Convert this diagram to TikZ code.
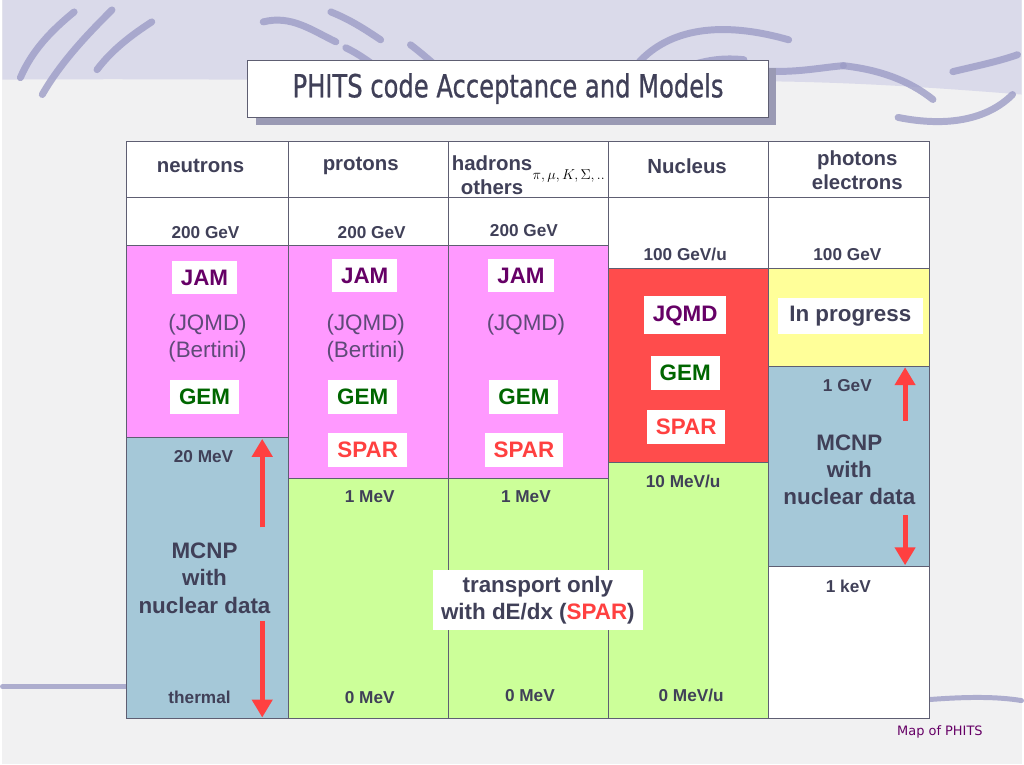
\documentclass[tikz,border=0pt]{standalone}
\usepackage{fontspec}
\setmainfont{Liberation Sans}
\newfontfamily\titlefont[FakeStretch=0.76,FakeBold=0.7]{DejaVu Sans}
\newfontfamily\notefont{DejaVu Sans}
\usetikzlibrary{arrows.meta,positioning,shadows}
\definecolor{txt}{HTML}{404058}
\definecolor{grid}{HTML}{5E5E72}
\definecolor{jamc}{HTML}{660066}
\definecolor{oldc}{HTML}{5E4A78}
\definecolor{gemc}{HTML}{006600}
\definecolor{sparc}{HTML}{FF4040}
\definecolor{magc}{HTML}{FF99FF}
\definecolor{bluec}{HTML}{A5C8D8}
\definecolor{greenc}{HTML}{CCFF99}
\definecolor{redc}{HTML}{FF4C4C}
\definecolor{yellowc}{HTML}{FFFF99}
\definecolor{bandc}{HTML}{DADAEA}
\definecolor{swirlc}{HTML}{9C9CC6}
\definecolor{paperc}{HTML}{F1F1F2}
\definecolor{shadowc}{HTML}{9A9AB4}

\begin{document}
\begin{tikzpicture}[x=1pt,y=-1pt,
  cell/.style={draw=grid,line width=0.9pt},
  head/.style={font=\fontsize{20.5}{24}\selectfont\bfseries,text=txt,align=center},
  energy/.style={font=\fontsize{17.3}{20}\selectfont\bfseries,text=txt},
  model/.style={fill=white,font=\fontsize{22.5}{26}\selectfont\bfseries,inner xsep=9pt,inner ysep=9pt},
  older/.style={font=\fontsize{22.5}{27}\selectfont,text=oldc,align=center},
  data/.style={font=\fontsize{22.5}{27.5}\selectfont\bfseries,text=txt,align=center},
  swirl/.style={draw=swirlc,line cap=round,line width=7pt,opacity=.8},
  updown/.style={-{Triangle[width=20pt,length=18pt]},line width=5pt,draw=sparc}]

  % background
  \fill[paperc] (0,0) rectangle (1024,768);
  \fill[bandc] (0,0) -- (1024,0) -- (1024,95) .. controls (900,85) and (800,80) .. (700,82)
    .. controls (500,85) and (300,78) .. (0,80) -- cycle;
  \path[swirl] (18,78) .. controls (30,50) and (50,30) .. (72,12);
  \path[swirl] (40,95) .. controls (60,60) and (90,30) .. (110,10);
  \path[swirl] (95,70) .. controls (110,50) and (130,35) .. (150,22);
  \path[swirl] (262,22) .. controls (290,15) and (310,30) .. (335,42);
  \path[swirl] (345,48) .. controls (370,60) and (390,80) .. (410,95);
  \path[swirl] (410,45) .. controls (430,60) and (450,80) .. (470,95);
  \path[swirl] (330,12) .. controls (350,20) and (365,30) .. (380,40);
  \path[swirl] (640,62) .. controls (670,30) and (720,20) .. (790,40);
  \path[swirl] (690,66) .. controls (710,60) and (725,58) .. (745,60);
  \path[swirl] (752,70) .. controls (790,75) and (820,68) .. (845,66);
  \path[swirl] (845,66) .. controls (880,70) and (910,80) .. (935,100);
  \path[swirl] (900,118) .. controls (950,128) and (990,120) .. (1015,95);
  \path[swirl] (955,72) .. controls (980,66) and (1000,62) .. (1020,55);
  \path[swirl,line width=5pt] (0,690) -- (125,690);
  \path[swirl,line width=5pt] (931,703) .. controls (970,700) and (1000,700) .. (1024,704);

  % title
  \node[draw=grid,fill=white,line width=0.8pt,minimum width=523pt,minimum height=57pt,
    drop shadow={shadow xshift=8pt,shadow yshift=-8pt,fill=shadowc,opacity=1},
    font=\titlefont\fontsize{32}{36}\selectfont,text=txt] (title) at (508,89)
    {PHITS code Acceptance and Models};

  % table cells
  \draw[cell,fill=white] (125,142) rectangle (931,722);
  \draw[cell] (125,198) -- (931,198);
  \draw[cell,fill=magc] (125,247) rectangle (287,440);
  \draw[cell,fill=bluec] (125,440) rectangle (287,722);
  \draw[cell,fill=magc] (287,247) rectangle (448,481);
  \draw[cell,fill=greenc] (287,481) rectangle (448,722);
  \draw[cell,fill=magc] (448,247) rectangle (609,481);
  \draw[cell,fill=greenc] (448,481) rectangle (609,722);
  \draw[cell,fill=redc] (609,270) rectangle (770,465);
  \draw[cell,fill=greenc] (609,465) rectangle (770,722);
  \draw[cell,fill=yellowc] (770,270) rectangle (931,368);
  \draw[cell,fill=bluec] (770,368) rectangle (931,569);
  \foreach \x in {287,448,609,770}
    \draw[cell] (\x,142) -- (\x,722);

  % header row
  \node[head] (neut) at (199,167) {neutrons};
  \node[head] (prot) at (360,167) {protons};
  \node[head] (hadr) at (492,176) {hadrons\\others};
  \node[font=\fontsize{15.5}{18}\selectfont] (part) at (569,177) {$\pi, \mu, K, \Sigma,..$};
  \node[head] (nucl) at (688,167) {Nucleus};
  \node[head] (phot) at (859,171) {photons\\electrons};

  % upper limits
  \node[energy] (nmax) at (204,234) {200 GeV};
  \node[energy] (pmax) at (371,234) {200 GeV};
  \node[energy] (hmax) at (524,232) {200 GeV};
  \node[energy] (amax) at (686,256) {100 GeV/u};
  \node[energy] (gmax) at (849,256) {100 GeV};

  % neutrons
  \node[model,text=jamc] (njam) at (203,279) {JAM};
  \node[older] (nold) at (206,340) {(JQMD)\\(Bertini)};
  \node[model,text=gemc] (ngem) at (203,399) {GEM};
  \node[energy] (nmid) at (202,459) {20 MeV};
  \node[data] (nmcnp) at (203,581) {MCNP\\with\\nuclear data};
  \node[energy] (nmin) at (198,701) {thermal};
  \coordinate (nup0) at (261,530);
  \coordinate (nup1) at (261,441);
  \coordinate (ndn0) at (261,624);
  \coordinate (ndn1) at (261,721);
  \draw[updown] (nup0) -- (nup1);
  \draw[updown] (ndn0) -- (ndn1);

  % protons
  \node[model,text=jamc] (pjam) at (364,277) {JAM};
  \node[older] (pold) at (365,340) {(JQMD)\\(Bertini)};
  \node[model,text=gemc] (pgem) at (362,399) {GEM};
  \node[model,text=sparc] (pspar) at (367,452) {SPAR};
  \node[energy] (pmid) at (369,499) {1 MeV};
  \node[energy] (pmin) at (369,701) {0 MeV};

  % hadrons
  \node[model,text=jamc] (hjam) at (521,277) {JAM};
  \node[older] (hold) at (526,326) {(JQMD)};
  \node[model,text=gemc] (hgem) at (524,399) {GEM};
  \node[model,text=sparc] (hspar) at (524,452) {SPAR};
  \node[energy] (hmid) at (526,499) {1 MeV};
  \node[energy] (hmin) at (530,699) {0 MeV};

  % nucleus
  \node[model,text=jamc] (ajqmd) at (686,317) {JQMD};
  \node[model,text=gemc] (agem) at (686,375) {GEM};
  \node[model,text=sparc] (aspar) at (687,429) {SPAR};
  \node[energy] (amid) at (684,484) {10 MeV/u};
  \node[energy] (amin) at (692,699) {0 MeV/u};

  % photons
  \node[model,text=txt,minimum width=145pt,inner ysep=8pt] (gprog) at (852,318) {In progress};
  \node[energy] (gmid) at (849,387) {1 GeV};
  \node[data] (gmcnp) at (851,472) {MCNP\\with\\nuclear data};
  \node[energy] (gmin) at (850,589) {1 keV};
  \coordinate (gup0) at (907,423);
  \coordinate (gup1) at (907,369);
  \coordinate (gdn0) at (907,518);
  \coordinate (gdn1) at (907,568);
  \draw[updown] (gup0) -- (gup1);
  \draw[updown] (gdn0) -- (gdn1);

  % transport
  \node[model,text=txt,align=center,inner xsep=8pt,inner ysep=6pt,
    font=\fontsize{22.5}{27.5}\selectfont\bfseries] (trans) at (538,603)
    {transport only\\with dE/dx (\textcolor{sparc}{SPAR})};

  \node[font=\notefont\fontsize{13}{16}\selectfont,text=jamc] (note) at (942,735) {Map of PHITS};
\end{tikzpicture}
\end{document}
